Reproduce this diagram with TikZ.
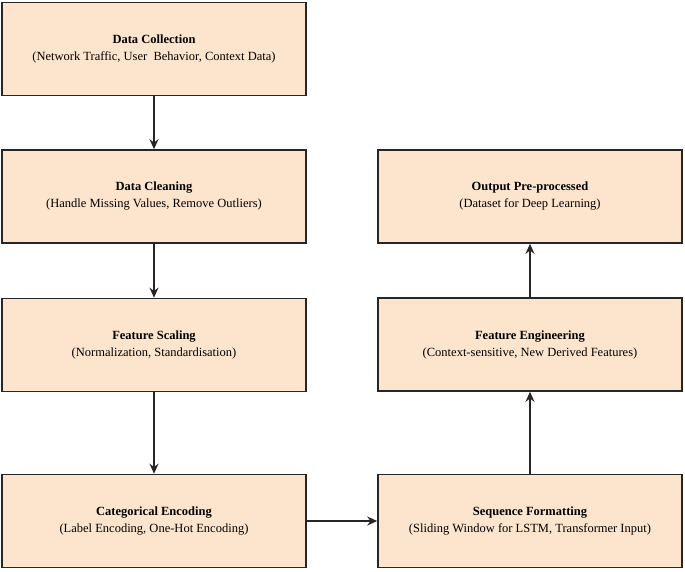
\documentclass[tikz,border=0pt]{standalone}
\usepackage{fontspec}
\setmainfont{Liberation Serif}
\usetikzlibrary{arrows.meta}
\definecolor{boxfill}{HTML}{FDE5CD}
\begin{document}
\begin{tikzpicture}[x=1pt,y=-1pt,
  box/.style={draw=black!85,line width=1.6pt,fill=boxfill,minimum width=304pt,minimum height=93pt,align=center,font=\fontsize{12.5}{17}\selectfont,inner sep=0pt},
  arr/.style={-{Stealth[length=10pt,width=9pt]},line width=1.5pt,black!85}]
\useasboundingbox (0,0) rectangle (685,571);
\node[box] (dc) at (154,49) {\textbf{Data Collection}\\(Network Traffic, User\ \ Behavior, Context Data)};
\node[box] (cl) at (154,196.5) {\textbf{Data Cleaning}\\(Handle Missing Values, Remove Outliers)};
\node[box] (fs) at (154,345) {\textbf{Feature Scaling}\\(Normalization, Standardisation)};
\node[box] (ce) at (154,521) {\textbf{Categorical Encoding}\\(Label Encoding, One-Hot Encoding)};
\node[box] (sf) at (530,521) {\textbf{Sequence Formatting}\\(Sliding Window for LSTM, Transformer Input)};
\node[box] (fe) at (530,344.5) {\textbf{Feature Engineering}\\(Context-sensitive, New Derived Features)};
\node[box] (op) at (530,196.5) {\textbf{Output Pre-processed}\\(Dataset for Deep Learning)};
\draw[arr] (dc) -- (cl);
\draw[arr] (cl) -- (fs);
\draw[arr] (fs) -- (ce);
\draw[arr] (ce) -- (sf);
\draw[arr] (sf) -- (fe);
\draw[arr] (fe) -- (op);
\end{tikzpicture}
\end{document}
